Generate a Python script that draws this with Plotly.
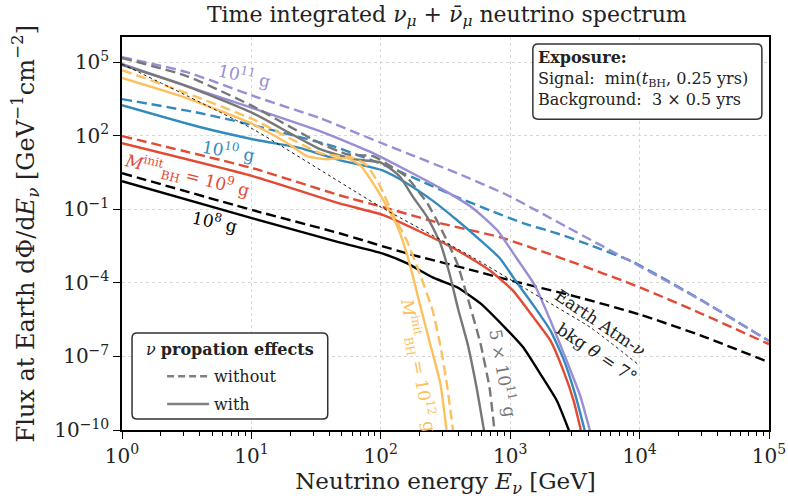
import numpy as np
import plotly.graph_objects as go

# ---- data (log10 energy [GeV], log10 flux [GeV^-1 cm^-2]) ----
lgE_1e8_wo = [0, 1.01, 1.68, 2.20, 2.71, 3.00, 3.50, 4.00, 4.50, 5.00]
lgF_1e8_wo = [0.47, -1.04, -1.98, -2.80, -3.49, -3.90, -4.55, -5.29, -6.20, -7.24]
lgE_1e8_w = [0, 1.01, 1.68, 2.01, 2.20, 2.40, 2.59, 2.77, 2.98, 3.10, 3.23, 3.36, 3.46]
lgF_1e8_w = [0.14, -1.37, -2.35, -2.80, -3.20, -3.78, -4.18, -4.84, -5.94, -6.63, -7.69, -8.80, -10.1]

lgE_1e9_wo = [0, 1.01, 1.68, 2.02, 2.46, 2.92, 3.44, 4.00, 4.47, 5.00]
lgF_1e9_wo = [1.98, 0.67, -0.43, -0.92, -1.57, -2.14, -3.08, -4.18, -5.24, -6.50]
lgE_1e9_w = [0, 1.01, 1.68, 2.02, 2.33, 2.59, 2.84, 3.02, 3.18, 3.31, 3.41, 3.49, 3.55]
lgF_1e9_w = [1.69, 0.35, -0.76, -1.24, -1.98, -2.67, -3.49, -4.31, -5.41, -6.35, -7.57, -8.80, -10.1]

lgE_1e10_wo = [0, 0.60, 1.04, 1.63, 2.07, 2.33, 2.59, 2.84, 3.10, 3.36, 3.62, 3.95, 4.47, 5.00]
lgF_1e10_wo = [3.49, 2.92, 2.39, 1.57, 0.71, 0.10, -0.51, -1.04, -1.57, -1.98, -2.47, -3.15, -4.68, -6.37]
lgE_1e10_w = [0, 0.60, 1.04, 1.38, 1.68, 2.01, 2.20, 2.40, 2.59, 2.77, 2.92, 3.05, 3.18, 3.31, 3.41, 3.50, 3.58]
lgF_1e10_w = [3.24, 2.35, 1.82, 1.49, 1.00, 0.59, 0.06, -0.65, -1.45, -2.27, -3.00, -3.98, -4.92, -5.94, -7.08, -8.51, -10.1]

lgE_1e11_wo = [0, 0.50, 1.04, 1.53, 1.99, 2.20, 2.59, 2.98, 3.44, 3.95, 4.47, 5.00]
lgF_1e11_wo = [5.20, 4.59, 3.57, 2.71, 1.73, 1.29, 0.47, -0.43, -1.73, -3.18, -4.70, -6.37]
lgE_1e11_w = [0, 0.50, 1.01, 1.53, 1.94, 2.20, 2.46, 2.71, 2.90, 3.05, 3.19, 3.31, 3.42, 3.54, 3.62]
lgF_1e11_w = [4.92, 4.02, 3.12, 2.18, 1.29, 0.59, -0.14, -0.95, -1.86, -3.00, -4.10, -5.53, -6.96, -8.59, -10.1]

lgE_5e11_wo = [0, 0.50, 1.01, 1.53, 1.74, 1.94, 2.09, 2.20, 2.36, 2.46, 2.59, 2.67, 2.77, 2.84, 2.88]
lgF_5e11_wo = [5.16, 4.43, 3.20, 1.69, 1.24, 1.16, 0.71, 0.31, -0.76, -1.73, -3.20, -4.59, -6.47, -8.27, -10.1]
lgE_5e11_w = [0, 0.50, 1.01, 1.53, 1.79, 1.99, 2.07, 2.15, 2.25, 2.36, 2.46, 2.53, 2.60, 2.67, 2.74, 2.80]
lgF_5e11_w = [4.88, 4.02, 2.92, 1.45, 1.04, 0.92, 0.67, 0.31, -0.51, -1.33, -2.39, -3.61, -5.12, -6.47, -8.27, -10.1]

lgE_1e12_wo = [0, 0.50, 1.01, 1.53, 1.79, 1.89, 1.99, 2.09, 2.20, 2.30, 2.40, 2.46, 2.51, 2.56]
lgF_1e12_wo = [4.67, 3.73, 2.67, 1.29, 1.08, 0.80, -0.02, -1.16, -2.27, -3.61, -5.12, -6.55, -8.10, -10.1]
lgE_1e12_w = [0, 0.50, 1.01, 1.28, 1.43, 1.58, 1.74, 1.84, 1.94, 2.05, 2.13, 2.20, 2.25, 2.30, 2.38, 2.46, 2.51]
lgF_1e12_w = [4.35, 3.53, 2.47, 1.69, 1.16, 1.04, 1.08, 0.80, 0.06, -0.92, -1.73, -2.80, -3.78, -4.84, -6.47, -8.10, -10.1]

lgE_atm = [0, 1.01, 1.99, 2.71, 3.23, 3.62, 4.00]
lgF_atm = [4.92, 2.27, -0.88, -2.96, -4.59, -5.82, -7.37]

x_tick_exp = [0, 1, 2, 3, 4, 5]
y_tick_exp = [5, 2, -1, -4, -7, -10]

# ---- styling ----
C_BLACK = "#000000"
C_RED = "#E24A33"
C_BLUE = "#348ABD"
C_PURPLE = "#988ED5"
C_GRAY = "#777777"
C_YELLOW = "#FBC15E"
FONT = "DejaVu Serif"
DASH = "10px,5px"
LW = 2.4

def p(a):
    return 10 ** np.array(a, dtype=float)

fig = go.Figure()

series = [
    (lgE_1e8_w, lgF_1e8_w, C_BLACK, "solid"),
    (lgE_1e8_wo, lgF_1e8_wo, C_BLACK, DASH),
    (lgE_1e9_w, lgF_1e9_w, C_RED, "solid"),
    (lgE_1e9_wo, lgF_1e9_wo, C_RED, DASH),
    (lgE_1e10_w, lgF_1e10_w, C_BLUE, "solid"),
    (lgE_1e10_wo, lgF_1e10_wo, C_BLUE, DASH),
    (lgE_1e11_w, lgF_1e11_w, C_PURPLE, "solid"),
    (lgE_1e11_wo, lgF_1e11_wo, C_PURPLE, DASH),
    (lgE_5e11_w, lgF_5e11_w, C_GRAY, "solid"),
    (lgE_5e11_wo, lgF_5e11_wo, C_GRAY, DASH),
    (lgE_1e12_w, lgF_1e12_w, C_YELLOW, "solid"),
    (lgE_1e12_wo, lgF_1e12_wo, C_YELLOW, DASH),
]
for ex, fy, col, dash in series:
    fig.add_trace(go.Scatter(x=p(ex), y=p(fy), mode="lines", showlegend=False,
                             line=dict(color=col, width=LW, dash=dash, shape="spline", smoothing=0.5),
                             hoverinfo="skip"))

fig.add_trace(go.Scatter(x=p(lgE_atm), y=p(lgF_atm), mode="lines", showlegend=False,
                         line=dict(color="black", width=0.9, dash="dot", shape="spline", smoothing=0.5),
                         hoverinfo="skip"))

# legend entries
fig.add_trace(go.Scatter(x=[None], y=[None], mode="lines", name="without", legendgroup="a",
                         line=dict(color="#808080", width=2.5, dash="7px,4px")))
fig.add_trace(go.Scatter(x=[None], y=[None], mode="lines", name="with", legendgroup="b",
                         line=dict(color="#808080", width=2.5)))

# curve labels
labels = [
    (0.95, 4.47, "10<sup>11</sup> g", C_PURPLE, 13),
    (0.82, 1.41, "10<sup>10</sup> g", C_BLUE, 10),
    (0.50, 0.39, "<i>M</i><sup>init</sup><sub>BH</sub> = 10<sup>9</sup> g", C_RED, 14),
    (0.72, -1.49, "10<sup>8</sup> g", C_BLACK, 12),
    (2.29, -7.37, "<i>M</i><sup>init</sup><sub>BH</sub> = 10<sup>12</sup> g", C_YELLOW, 80),
    (2.95, -7.69, "5 × 10<sup>11</sup> g", C_GRAY, 80),
    (3.70, -5.62, "Earth Atm-<i>ν</i>", "#222222", 34),
    (3.67, -6.85, "bkg <i>θ</i> = 7°", "#222222", 34),
]
for lx, ly, t, col, ang in labels:
    fig.add_annotation(x=lx, y=ly, xref="x", yref="y", text=t, showarrow=False,
                       textangle=ang, font=dict(family=FONT, size=17, color=col))

# rounded boxes (paper coordinates)
def rbox(x0, y0, x1, y1, rx=0.008, ry=0.013):
    return (f"M {x0+rx},{y0} L {x1-rx},{y0} Q {x1},{y0} {x1},{y0+ry} L {x1},{y1-ry} "
            f"Q {x1},{y1} {x1-rx},{y1} L {x0+rx},{y1} Q {x0},{y1} {x0},{y1-ry} "
            f"L {x0},{y0+ry} Q {x0},{y0} {x0+rx},{y0} Z")

fig.add_shape(type="path", xref="paper", yref="paper", path=rbox(0.635, 0.791, 0.989, 0.982),
              line=dict(color="#333333", width=1.5), fillcolor="white", layer="above")
fig.add_shape(type="path", xref="paper", yref="paper", path=rbox(0.0155, 0.028, 0.318, 0.247),
              line=dict(color="#333333", width=1.5), fillcolor="white", layer="above")

fig.add_annotation(x=0.640, y=0.977, xref="paper", yref="paper", xanchor="left", yanchor="top",
                   text="<b>Exposure:</b><br>Signal:  min(<i>t</i><sub>BH</sub>, 0.25 yrs)<br>Background:  3 × 0.5 yrs",
                   align="left", showarrow=False, font=dict(family=FONT, size=16, color="#222222"))

# legend title as text inside the legend box
fig.add_annotation(x=0.167, y=0.205, xref="paper", yref="paper", xanchor="center", yanchor="middle",
                   text="<i>ν</i> <b>propation effects</b>", showarrow=False,
                   font=dict(family=FONT, size=16, color="#222222"))

# y-axis title as rotated text (placed closer to the figure edge)
fig.add_annotation(x=-0.150, y=0.5, xref="paper", yref="paper", xanchor="center", yanchor="middle",
                   text="Flux at Earth dΦ/d<i>E</i><sub><i>ν</i></sub> [GeV<sup>−1</sup>cm<sup>−2</sup>]",
                   textangle=-90, showarrow=False, font=dict(family=FONT, size=24, color="#222222"))

minor_x = [m * 10 ** k for k in range(0, 5) for m in range(2, 10)]

fig.update_layout(
    width=788, height=504,
    margin=dict(l=122, r=19, t=37, b=74, autoexpand=False),
    paper_bgcolor="white", plot_bgcolor="white",
    font=dict(family=FONT, size=18, color="#222222"),
    title=dict(text="Time integrated <i>ν</i><sub><i>μ</i></sub> + <i>ν̄</i><sub><i>μ</i></sub> neutrino spectrum",
               x=0.567, xanchor="center", y=0.972, yanchor="middle",
               font=dict(family=FONT, size=22, color="#222222")),
    legend=dict(x=0.062, y=0.18, xanchor="left", yanchor="top",
                bgcolor="rgba(0,0,0,0)", borderwidth=0,
                font=dict(family=FONT, size=16), itemwidth=42, tracegroupgap=4),
)
fig.update_xaxes(type="log", range=[0, 5], automargin=False,
                 tickvals=[10 ** e for e in x_tick_exp],
                 ticktext=[f"10<sup>{e}</sup>" for e in x_tick_exp],
                 ticks="outside", ticklen=7, tickwidth=1.3, tickcolor="black",
                 minor=dict(tickvals=minor_x, ticks="outside", ticklen=4, tickwidth=1, tickcolor="black", showgrid=False),
                 showline=True, linecolor="black", linewidth=1.5, mirror=True,
                 showgrid=True, gridcolor="#d8d8d8", griddash="dot", gridwidth=1,
                 title=dict(text="Neutrino energy <i>E</i><sub><i>ν</i></sub> [GeV]", font=dict(family=FONT, size=23), standoff=4),
                 tickfont=dict(family=FONT, size=20), zeroline=False)
fig.update_yaxes(type="log", range=[-10, 6.02], automargin=False,
                 tickvals=[10.0 ** e for e in y_tick_exp],
                 ticktext=[f"10<sup>{str(e).replace('-', '−')}</sup>" for e in y_tick_exp],
                 ticks="outside", ticklen=7, tickwidth=1.3, tickcolor="black",
                 showline=True, linecolor="black", linewidth=1.5, mirror=True,
                 showgrid=True, gridcolor="#d8d8d8", griddash="dot", gridwidth=1,
                 tickfont=dict(family=FONT, size=20), zeroline=False)

fig.write_html("out.html")
